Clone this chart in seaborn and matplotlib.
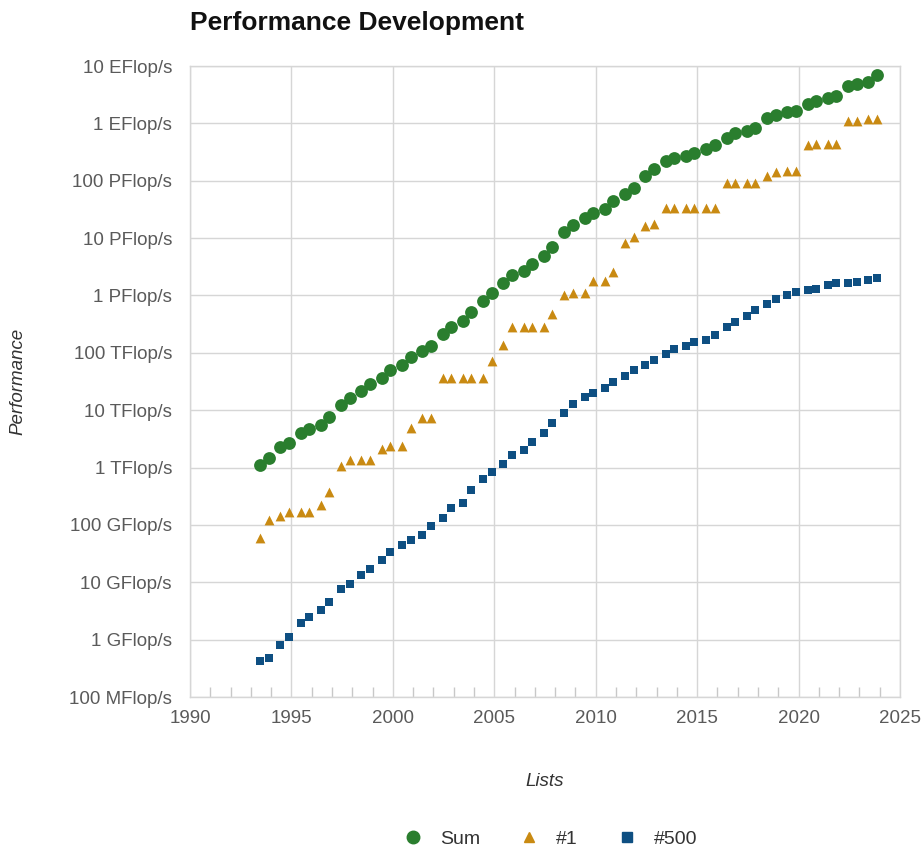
import seaborn as sns
import matplotlib.pyplot as plt
import matplotlib.ticker as mticker
from matplotlib.lines import Line2D
import pandas as pd

sns.set_style("white")
plt.rcParams['font.family'] = ['Liberation Sans', 'DejaVu Sans']

# list dates: June / November editions, 1993-2023
years = list(range(1993, 2024))
lists = []
for y in years:
    lists += [y + 0.45, y + 0.87]

# performance in GFlop/s
perf_sum = [1128, 1493, 2317, 2732, 3929, 4782, 5446, 7700, 12400, 16400,
            21900, 28700, 37000, 50000, 61500, 86000, 109000, 134000, 214000, 286000,
            354000, 508000, 794000, 1100000, 1630000, 2300000, 2700000, 3500000, 4900000, 7000000,
            12700000, 17000000, 22600000, 27950000, 32400000, 43700000, 58900000, 74200000, 123000000, 162000000,
            223000000, 250000000, 274000000, 309000000, 361000000, 420000000, 566000000, 672000000, 749000000, 845000000,
            1220000000, 1410000000, 1560000000, 1650000000, 2220000000, 2430000000, 2790000000, 3040000000, 4400000000, 4860000000,
            5240000000, 7010000000]
perf_first = [59.7, 124, 143.4, 170, 170, 170, 220.4, 368.2, 1068, 1338,
              1338, 1338, 2121, 2379, 2379, 4938, 7226, 7226, 35860, 35860,
              35860, 35860, 35860, 70720, 136800, 280600, 280600, 280600, 280600, 478200,
              1026000, 1105000, 1105000, 1759000, 1759000, 2566000, 8162000, 10510000, 16320000, 17590000,
              33860000, 33860000, 33860000, 33860000, 33860000, 33860000, 93010000, 93010000, 93010000, 93010000,
              122300000, 143500000, 148600000, 148600000, 415530000, 442010000, 442010000, 442010000, 1102000000, 1102000000,
              1194000000, 1194000000]
perf_last = [0.422, 0.472, 0.822, 1.114, 1.96, 2.49, 3.31, 4.62, 7.67, 9.51,
             13.39, 17.12, 24.73, 33.09, 43.82, 55.1, 67.78, 94.3, 134.3, 195.8,
             245.1, 403.4, 624, 850.6, 1166, 1646, 2026, 2737, 4005, 5929,
             9000, 12640, 17100, 20050, 24670, 31120, 39100, 50940, 60820, 76500,
             96620, 117800, 133700, 153400, 164700, 206300, 286100, 349300, 432200, 548300,
             715600, 874800, 1022000, 1142000, 1228000, 1317000, 1511000, 1646000, 1646000, 1730000,
             1870000, 2020000]

series_names = ['Sum', '#1', '#500']
colors = {'Sum': '#2a7e2e', '#1': '#c98a12', '#500': '#0e4f82'}
markers = {'Sum': 'o', '#1': '^', '#500': 's'}
sizes = {'Sum': 85, '#1': 50, '#500': 38}

ytick_vals = [1e-1, 1, 1e1, 1e2, 1e3, 1e4, 1e5, 1e6, 1e7, 1e8, 1e9, 1e10]
ytick_labels = ['100 MFlop/s', '1 GFlop/s', '10 GFlop/s', '100 GFlop/s', '1 TFlop/s',
                '10 TFlop/s', '100 TFlop/s', '1 PFlop/s', '10 PFlop/s', '100 PFlop/s',
                '1 EFlop/s', '10 EFlop/s']

df = pd.concat([
    pd.DataFrame({'Lists': lists, 'Performance': perf_sum, 'series': 'Sum'}),
    pd.DataFrame({'Lists': lists, 'Performance': perf_first, 'series': '#1'}),
    pd.DataFrame({'Lists': lists, 'Performance': perf_last, 'series': '#500'}),
])

fig = plt.figure(figsize=(9.23, 8.52), dpi=100)
ax = fig.add_axes([0.2059, 0.1819, 0.7691, 0.7406])

for name in series_names:
    sub = df[df['series'] == name]
    sns.scatterplot(data=sub, x='Lists', y='Performance', ax=ax, color=colors[name],
                    marker=markers[name], s=sizes[name], linewidth=0, legend=False, zorder=3)

ax.set_yscale('log')
ax.set_ylim(1e-1, 1e10)
ax.set_xlim(1990, 2025)
ax.yaxis.set_major_locator(mticker.FixedLocator(ytick_vals))
ax.yaxis.set_minor_locator(mticker.NullLocator())
ax.set_yticklabels(ytick_labels)
ax.set_xticks(range(1990, 2026, 5))
ax.set_xticks([y for y in range(1991, 2025) if y % 5 != 0], minor=True)

ax.grid(True, which='major', color='#d6d6d6', linewidth=1)
ax.tick_params(axis='both', which='major', length=0, labelsize=13.5, labelcolor='#5a5a5a', pad=13)
ax.tick_params(axis='x', which='major', pad=9)
ax.tick_params(axis='x', which='minor', bottom=True, direction='in', length=7,
               color='#c8c8c8', width=1)
for side in ['left', 'right', 'top', 'bottom']:
    ax.spines[side].set_color('#d6d6d6')
    ax.spines[side].set_linewidth(1)

ax.set_xlabel('Lists', fontsize=13.5, style='italic', color='#333333')
ax.xaxis.set_label_coords(0.5, -0.12)
ax.set_ylabel('Performance', fontsize=13.5, style='italic', color='#333333')
ax.yaxis.set_label_coords(-0.231, 0.5)
fig.text(0.2059, 0.973, 'Performance Development', fontsize=19, fontweight='bold',
         ha='left', va='center', color='#111111')

handles = [Line2D([], [], linestyle='none', marker=markers[n], color=colors[n],
                  markersize={'Sum': 9, '#1': 7.5, '#500': 6.5}[n]) for n in series_names]
fig.legend(handles, series_names, loc='center', bbox_to_anchor=(0.591, 0.015), ncol=3,
           frameon=False, fontsize=14, columnspacing=1.5, handletextpad=0.4,
           labelcolor='#333333')

plt.savefig('out.png', dpi=100)
